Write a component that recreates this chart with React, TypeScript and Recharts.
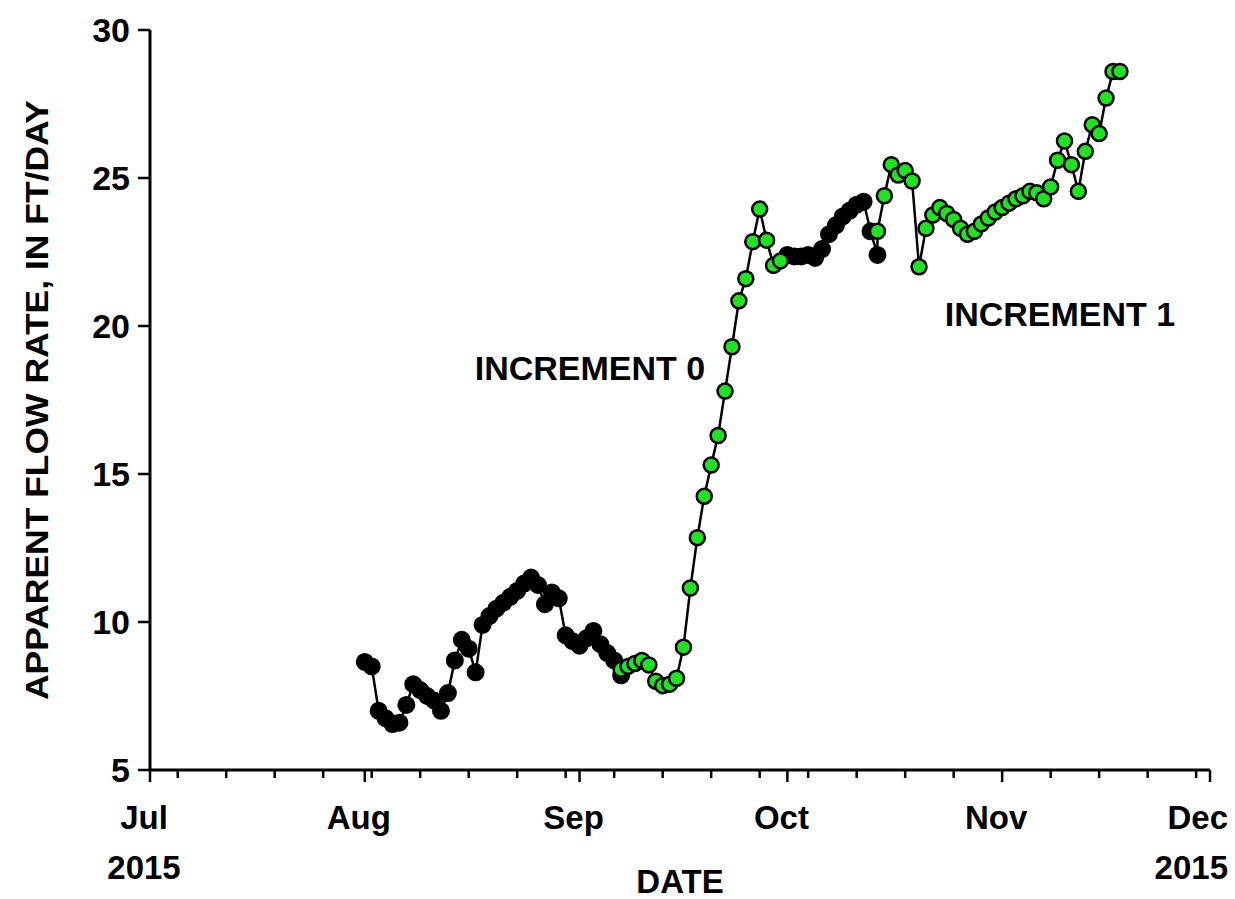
import React from "react";
import { LineChart, Line, XAxis, YAxis } from "recharts";

// black points (two runs), green points (two runs)
const darkDates = [
    "2015-08-01", "2015-08-02", "2015-08-03", "2015-08-04", "2015-08-05", "2015-08-06", "2015-08-07",
    "2015-08-08", "2015-08-09", "2015-08-10", "2015-08-11", "2015-08-12", "2015-08-13", "2015-08-14",
    "2015-08-15", "2015-08-16", "2015-08-17", "2015-08-18", "2015-08-19", "2015-08-20", "2015-08-21",
    "2015-08-22", "2015-08-23", "2015-08-24", "2015-08-25", "2015-08-26", "2015-08-27", "2015-08-28",
    "2015-08-29", "2015-08-30", "2015-08-31", "2015-09-01", "2015-09-02", "2015-09-03", "2015-09-04",
    "2015-09-05", "2015-09-06", "2015-09-07",
    "2015-10-01", "2015-10-02", "2015-10-03", "2015-10-04", "2015-10-05", "2015-10-06", "2015-10-07",
    "2015-10-08", "2015-10-09", "2015-10-10", "2015-10-11", "2015-10-12", "2015-10-13", "2015-10-14",
];
const darkValues = [
    8.65, 8.5, 7.0, 6.75, 6.55, 6.6, 7.2,
    7.9, 7.7, 7.5, 7.35, 7.0, 7.6, 8.7,
    9.4, 9.1, 8.3, 9.9, 10.2, 10.45, 10.65,
    10.85, 11.05, 11.3, 11.5, 11.25, 10.6, 11.0,
    10.8, 9.55, 9.35, 9.2, 9.45, 9.7, 9.25,
    8.95, 8.7, 8.2,
    22.4, 22.35, 22.35, 22.4, 22.3, 22.6, 23.1,
    23.4, 23.7, 23.9, 24.1, 24.2, 23.2, 22.4,
];

const greenDates = [
    "2015-09-07", "2015-09-08", "2015-09-09", "2015-09-10", "2015-09-11", "2015-09-12", "2015-09-13",
    "2015-09-14", "2015-09-15", "2015-09-16", "2015-09-17", "2015-09-18", "2015-09-19", "2015-09-20",
    "2015-09-21", "2015-09-22", "2015-09-23", "2015-09-24", "2015-09-25", "2015-09-26", "2015-09-27",
    "2015-09-28", "2015-09-29", "2015-09-30",
    "2015-10-14", "2015-10-15", "2015-10-16", "2015-10-17", "2015-10-18", "2015-10-19", "2015-10-20",
    "2015-10-21", "2015-10-22", "2015-10-23", "2015-10-24", "2015-10-25", "2015-10-26", "2015-10-27",
    "2015-10-28", "2015-10-29", "2015-10-30", "2015-10-31", "2015-11-01", "2015-11-02", "2015-11-03",
    "2015-11-04", "2015-11-05", "2015-11-06", "2015-11-07", "2015-11-08", "2015-11-09", "2015-11-10",
    "2015-11-11", "2015-11-12", "2015-11-13", "2015-11-14", "2015-11-15", "2015-11-16", "2015-11-17",
    "2015-11-18",
];
const greenValues = [
    8.4, 8.5, 8.6, 8.7, 8.55, 8.0, 7.85,
    7.9, 8.1, 9.15, 11.15, 12.85, 14.25, 15.3,
    16.3, 17.8, 19.3, 20.85, 21.6, 22.85, 23.95,
    22.9, 22.05, 22.2,
    23.2, 24.4, 25.45, 25.1, 25.25, 24.9, 22.0,
    23.3, 23.75, 24.0, 23.8, 23.6, 23.3, 23.1,
    23.2, 23.45, 23.65, 23.85, 24.0, 24.15, 24.3,
    24.4, 24.55, 24.5, 24.3, 24.7, 25.6, 26.25,
    25.45, 24.55, 25.9, 26.8, 26.5, 27.7, 28.6,
    28.6,
];

const monthTicks = ["2015-07-01", "2015-08-01", "2015-09-01", "2015-10-01", "2015-11-01", "2015-12-01"];
const monthLabels = ["Jul", "Aug", "Sep", "Oct", "Nov", "Dec"];
const yearLabels = ["2015", "", "", "", "", "2015"];
const weekTicks = [
    "2015-07-05", "2015-07-12", "2015-07-19", "2015-07-26", "2015-08-02", "2015-08-09",
    "2015-08-16", "2015-08-23", "2015-08-30", "2015-09-06", "2015-09-13", "2015-09-20",
    "2015-09-27", "2015-10-04", "2015-10-11", "2015-10-18", "2015-10-25", "2015-11-08",
    "2015-11-15", "2015-11-22", "2015-11-29",
];
const yTicks = [5, 10, 15, 20, 25, 30];

const t = (s: string) => Date.parse(s + "T00:00:00Z");

const darkData = darkDates.map((d, i) => ({ x: t(d), y: darkValues[i] }));
const greenData = greenDates.map((d, i) => ({ x: t(d), y: greenValues[i] }));

// the connecting line runs through both sets in date order
const lineData = [
    ...darkData.slice(0, 38),
    ...greenData.slice(0, 24),
    ...darkData.slice(38),
    ...greenData.slice(24),
];

const monthTs = monthTicks.map(t);
const allTicks = [...monthTs, ...weekTicks.map(t)].sort((a, b) => a - b);

const FONT = "'Liberation Sans', Arial, sans-serif";

function DateTick(props: any) {
    const { x, y, payload } = props;
    const mi = monthTs.indexOf(payload.value);
    const major = mi >= 0;
    const last = mi === monthTs.length - 1;
    // last label is pulled in so it stays inside the picture
    const tx = last ? x + 18 : x - 6;
    const anchor = last ? "end" : "middle";
    return (
        <g>
            <line x1={x} y1={y} x2={x} y2={y + (major ? 12 : 8)} stroke="#000" strokeWidth={2.5} />
            {major && (
                <text x={tx} y={y + 59} textAnchor={anchor} fontFamily={FONT} fontWeight="bold" fontSize={33} fill="#000">
                    {monthLabels[mi]}
                </text>
            )}
            {major && yearLabels[mi] && (
                <text x={tx} y={y + 109} textAnchor={anchor} fontFamily={FONT} fontWeight="bold" fontSize={33} fill="#000">
                    {yearLabels[mi]}
                </text>
            )}
        </g>
    );
}

function ValueTick(props: any) {
    const { x, y, payload } = props;
    return (
        <g>
            <line x1={x} y1={y} x2={x - 12} y2={y} stroke="#000" strokeWidth={2.5} />
            <text x={x - 20} y={y + 12} textAnchor="end" fontFamily={FONT} fontWeight="bold" fontSize={34} fill="#000">
                {payload.value}
            </text>
        </g>
    );
}

export default function App() {
    return (
        <div style={{ position: "absolute", left: 0, top: 0, background: "#fff" }}>
            <LineChart width={1235} height={899} margin={{ top: 30, right: 25, bottom: 29, left: 60 }}>
                <XAxis
                    xAxisId="b"
                    dataKey="x"
                    type="number"
                    domain={[t("2015-07-01"), t("2015-12-01")]}
                    ticks={allTicks}
                    interval={0}
                    tick={<DateTick />}
                    tickLine={false}
                    tickSize={0}
                    tickMargin={0}
                    height={100}
                    axisLine={{ stroke: "#000", strokeWidth: 3 }}
                    allowDataOverflow
                />
                <XAxis
                    xAxisId="top"
                    orientation="top"
                    dataKey="x"
                    type="number"
                    domain={[t("2015-07-01"), t("2015-12-01")]}
                    tick={false}
                    tickLine={false}
                    height={0}
                    axisLine={{ stroke: "#000", strokeWidth: 2.5 }}
                />
                <YAxis
                    yAxisId="l"
                    type="number"
                    domain={[5, 30]}
                    ticks={yTicks}
                    interval={0}
                    tick={<ValueTick />}
                    tickLine={false}
                    tickSize={0}
                    tickMargin={0}
                    width={90}
                    axisLine={{ stroke: "#000", strokeWidth: 3 }}
                />
                <YAxis
                    yAxisId="r"
                    orientation="right"
                    type="number"
                    domain={[5, 30]}
                    tick={false}
                    tickLine={false}
                    width={0}
                    axisLine={{ stroke: "#000", strokeWidth: 2.5 }}
                />
                <Line
                    xAxisId="b"
                    yAxisId="l"
                    data={lineData}
                    dataKey="y"
                    stroke="#000"
                    strokeWidth={2.5}
                    dot={false}
                    isAnimationActive={false}
                />
                <Line
                    xAxisId="b"
                    yAxisId="l"
                    data={darkData}
                    dataKey="y"
                    stroke="none"
                    dot={{ r: 8, fill: "#000", stroke: "#000", strokeWidth: 2 }}
                    isAnimationActive={false}
                />
                <Line
                    xAxisId="b"
                    yAxisId="l"
                    data={greenData}
                    dataKey="y"
                    stroke="none"
                    dot={{ r: 7.5, fill: "#22e022", stroke: "#000", strokeWidth: 2.5 }}
                    isAnimationActive={false}
                />
                <text x={37} y={400} transform="rotate(-90 37 400)" textAnchor="middle" dominantBaseline="central" fontFamily={FONT} fontWeight="bold" fontSize={32} textLength={600} lengthAdjust="spacingAndGlyphs" fill="#000">
                    APPARENT FLOW RATE, IN FT/DAY
                </text>
                <text x={680} y={893} textAnchor="middle" fontFamily={FONT} fontWeight="bold" fontSize={33} fill="#000">
                    DATE
                </text>
                <text x={590} y={380} textAnchor="middle" fontFamily={FONT} fontWeight="bold" fontSize={34} fill="#000">
                    INCREMENT 0
                </text>
                <text x={1060} y={326} textAnchor="middle" fontFamily={FONT} fontWeight="bold" fontSize={34} fill="#000">
                    INCREMENT 1
                </text>
            </LineChart>
        </div>
    );
}
